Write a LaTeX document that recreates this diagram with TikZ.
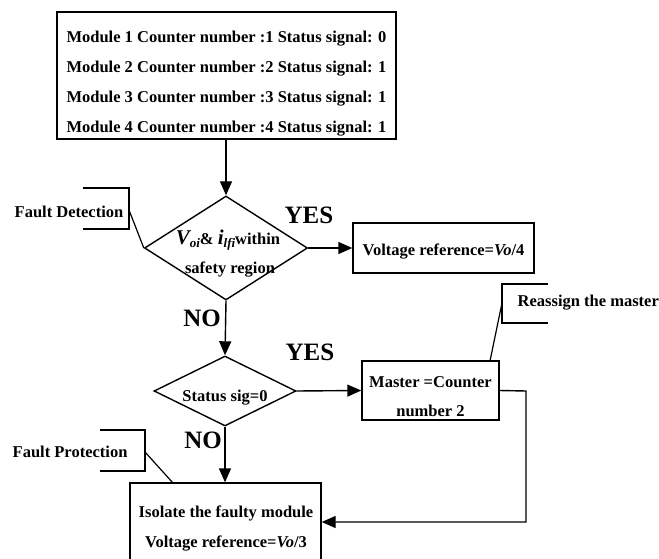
\documentclass[tikz,border=0pt]{standalone}
\usepackage{fontspec}
\setmainfont{Liberation Serif}
\usetikzlibrary{arrows.meta,shapes.geometric}
\begin{document}
\begin{tikzpicture}[x=1pt,y=-1pt,
  line width=1.4pt,
  txt/.style={font=\fontsize{16.5}{30}\selectfont\bfseries, inner sep=0pt},
  big/.style={font=\fontsize{25}{26}\selectfont\bfseries, inner sep=0pt},
  box/.style={draw, rectangle, inner sep=0pt},
  dia/.style={draw, diamond, inner sep=0pt},
  flow/.style={-{Triangle[length=14pt,width=12pt]}},
  tag/.style={line width=1.2pt}
]
\useasboundingbox (0,0) rectangle (659,559);
\clip (0,0) rectangle (659,559);

% module status table
\node[box, minimum width=339pt, minimum height=127pt] (top) at (226.5,75.5) {};
\node[txt, align=left] (toptext) at (226.5,83.5) {Module 1 Counter number :1 Status signal: 0\\
Module 2 Counter number :2 Status signal: 1\\
Module 3 Counter number :3 Status signal: 1\\
Module 4 Counter number :4 Status signal: 1};

% fault detection decision
\node[dia, minimum width=163pt, minimum height=104pt] (d1) at (226,248) {};
\node[txt] (d1a) at (228,240) {\fontsize{21}{22}\selectfont\itshape V\raisebox{-0.35ex}{\fontsize{13}{14}\selectfont\itshape oi}\upshape\fontsize{16.5}{18}\selectfont\& \fontsize{21}{22}\selectfont\itshape i\raisebox{-0.35ex}{\fontsize{13}{14}\selectfont\itshape lfi}\upshape\fontsize{16.5}{18}\selectfont within};
\node[txt] (d1b) at (230,270) {safety region};

\node[box, minimum width=181pt, minimum height=50pt] (vo4) at (443.5,248) {};
\node[txt] (vo4t) at (443.5,252) {Voltage reference=\textit{Vo}/4};

% status check decision
\node[dia, minimum width=142pt, minimum height=70pt] (d2) at (225,391) {};
\node[txt] (d2t) at (225,398) {Status sig=0};

\node[box, minimum width=137pt, minimum height=59pt] (master) at (430.5,390.5) {};
\node[txt] (m1) at (430.5,382) {Master =Counter};
\node[txt] (m2) at (430.5,411) {number 2};

% protection action
\node[box, minimum width=191pt, minimum height=90pt] (iso) at (225.5,528) {};
\node[txt] (iso1) at (226,513) {Isolate the faulty module};
\node[txt] (iso2) at (226,544) {Voltage reference=\textit{Vo}/3};

% branch labels
\node[big] (yes1) at (309,215) {YES};
\node[big] (no1) at (202,318) {NO};
\node[big] (yes2) at (310,352) {YES};
\node[big] (no2) at (203,440) {NO};

% connectors
\draw[flow] (top.south -| d1.north) -- (d1.north);
\draw[flow] (d1.east) -- (vo4.west);
\draw[flow] (d1.south) -- (d2.north);
\draw[flow] (d2.east) -- (master.west);
\draw[flow] (d2.south) -- (d2.south |- iso.north);
\coordinate (loopA) at (526,391);
\coordinate (loopB) at (526,522);
\draw[flow] (master.east) -- (loopA) -- (loopB) -- (loopB -| iso.east);

% annotation brackets
\node[txt, anchor=west] (fd) at (14,212) {Fault Detection};
\draw[tag] (83,188) -- (129,188) -- (129,229) -- (83,229);
\draw[tag] (129,210) -- (d1.west);

\node[txt, anchor=west] (fp) at (12,452) {Fault Protection};
\draw[tag] (100,430) -- (145,430) -- (145,471) -- (100,471);
\draw[tag] (145,452) -- (173,483);

\node[txt, anchor=west] (ra) at (517,303) {Reassign the master};
\draw[tag] (548,284) -- (502,284) -- (502,323) -- (548,323);
\draw[tag] (502,303) -- (490,361);
\end{tikzpicture}
\end{document}
